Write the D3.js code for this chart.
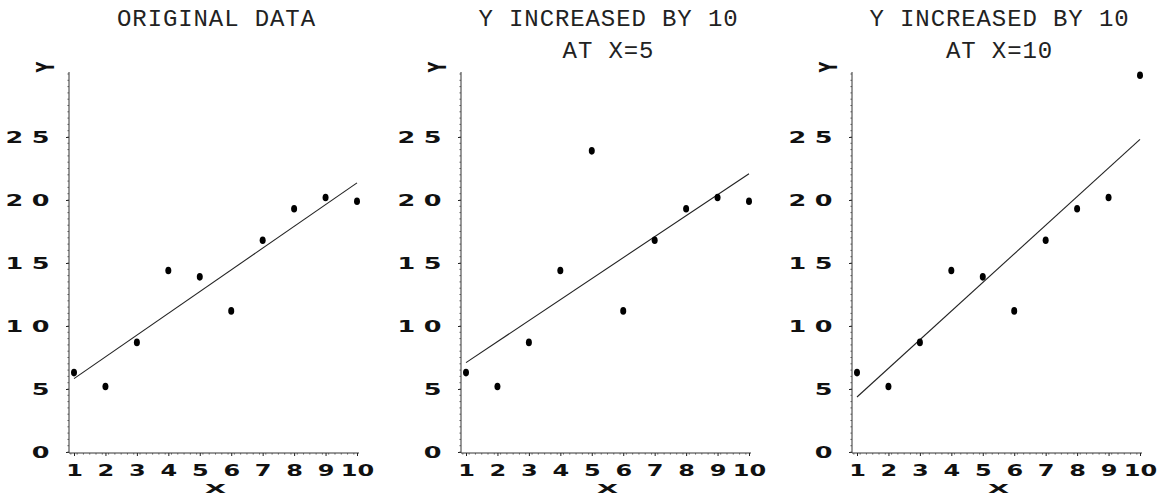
<!DOCTYPE html>
<html>
<head>
<meta charset="utf-8">
<script src="https://cdn.jsdelivr.net/npm/d3@7"></script>
<style>
    body { margin: 0; background: #fff; }
    .title { font-family: "Liberation Mono", "DejaVu Sans Mono", monospace; font-size: 24px; fill: #222; letter-spacing: 0.9px; }
    .tick-label { font-family: "DejaVu Sans", sans-serif; font-weight: bold; font-size: 15px; fill: #111; }
</style>
</head>
<body>
<div class="content-wrapper"></div>
<script>
// data
var xValues = [1, 2, 3, 4, 5, 6, 7, 8, 9, 10];
var yOriginal = [6.3, 5.2, 8.7, 14.4, 13.9, 11.2, 16.8, 19.3, 20.2, 19.9];
var yChangedAt5 = [6.3, 5.2, 8.7, 14.4, 23.9, 11.2, 16.8, 19.3, 20.2, 19.9];
var yChangedAt10 = [6.3, 5.2, 8.7, 14.4, 13.9, 11.2, 16.8, 19.3, 20.2, 29.9];
var panelTitles = [
    ["ORIGINAL DATA"],
    ["Y INCREASED BY 10", "AT X=5"],
    ["Y INCREASED BY 10", "AT X=10"]
];
var xTicks = [1, 2, 3, 4, 5, 6, 7, 8, 9, 10];
var yTicks = [0, 5, 10, 15, 20, 25];

var panelSeries = [yOriginal, yChangedAt5, yChangedAt10];
var panelLefts = [74, 466, 857];

var width = 1162;
var height = 495;
var plotW = 283;

var svg = d3.select(".content-wrapper")
    .append("svg")
    .attr("width", width)
    .attr("height", height);

var y = d3.scaleLinear().domain([0, 30]).range([452, 74]);

// least squares fit
function fit(xs, ys) {
    var mx = d3.mean(xs), my = d3.mean(ys);
    var sxy = d3.sum(xs, (d, i) => (d - mx) * (ys[i] - my));
    var sxx = d3.sum(xs, d => (d - mx) * (d - mx));
    var b = sxy / sxx;
    return { a: my - b * mx, b: b };
}

panelSeries.forEach(function (ys, p) {
    var left = panelLefts[p];
    var x = d3.scaleLinear().domain([1, 10]).range([left, left + plotW]);
    var axisX = left - 5;
    var g = svg.append("g");

    // titles
    var cx = left + plotW / 2 + 1;
    panelTitles[p].forEach(function (t, i) {
        g.append("text")
            .attr("class", "title")
            .attr("x", cx)
            .attr("y", 26 + i * 32)
            .attr("text-anchor", "middle")
            .text(t);
    });

    // y axis
    var yAxis = d3.axisLeft(y)
        .tickValues(yTicks)
        .tickSize(3)
        .tickFormat(d3.format("d"));
    var ya = g.append("g")
        .attr("transform", "translate(" + axisX + ",0)")
        .call(yAxis);
    ya.select(".domain").attr("d", "M0," + (y(30) - 2) + "V" + (y(0) + 1)).attr("stroke", "#333");
    ya.selectAll(".tick line").attr("stroke", "#222");
    ya.selectAll(".tick text")
        .attr("class", "tick-label")
        .attr("font-family", null).attr("font-size", null)
        .attr("fill", null)
        .attr("x", -16 / 1.7 + 5 / 1.7)
        .attr("dy", "0.36em")
        .attr("letter-spacing", 5)
        .attr("transform", "scale(1.7,1)");
    // minor ticks on y
    g.append("g").selectAll("line")
        .data(d3.range(0, 30.01, 0.5))
        .enter().append("line")
        .attr("x1", axisX - 1.5).attr("x2", axisX)
        .attr("y1", d => y(d)).attr("y2", d => y(d))
        .attr("stroke", "#555").attr("stroke-width", 1);

    // x axis
    var xAxis = d3.axisBottom(x)
        .tickValues(xTicks)
        .tickSize(3)
        .tickPadding(6)
        .tickFormat(d3.format("d"));
    var xa = g.append("g")
        .attr("transform", "translate(0," + (y(0) + 1) + ")")
        .call(xAxis);
    xa.select(".domain").attr("d", "M" + axisX + ",0H" + (x(10) + 2)).attr("stroke", "#333");
    xa.selectAll(".tick line").attr("stroke", "#222");
    xa.selectAll(".tick text")
        .attr("class", "tick-label")
        .attr("font-family", null).attr("font-size", null)
        .attr("fill", null)
        .attr("y", 0)
        .attr("dy", null)
        .attr("transform", "translate(0,23) scale(1.6,1)");
    g.append("g").selectAll("line")
        .data(d3.range(0.9, 10.05, 0.2))
        .enter().append("line")
        .attr("x1", d => x(d)).attr("x2", d => x(d))
        .attr("y1", y(0) + 1).attr("y2", y(0) + 2.5)
        .attr("stroke", "#555").attr("stroke-width", 1);

    // axis names
    g.append("text")
        .attr("class", "tick-label")
        .attr("transform", "translate(" + (axisX - 24) + ",67) rotate(-90) scale(0.95,1.7)")
        .attr("text-anchor", "middle")
        .attr("dy", "0.36em")
        .text("Y");
    g.append("text")
        .attr("class", "tick-label")
        .style("font-size", "13px")
        .attr("transform", "translate(" + (left + plotW / 2) + ",493) scale(2.1,1)")
        .attr("text-anchor", "middle")
        .text("X");

    // regression line
    var f = fit(xValues, ys);
    g.append("line")
        .attr("x1", x(1)).attr("y1", y(f.a + f.b * 1))
        .attr("x2", x(10)).attr("y2", y(f.a + f.b * 10))
        .attr("stroke", "#222")
        .attr("stroke-width", 1.1);

    // points
    g.append("g").selectAll("ellipse")
        .data(xValues)
        .enter().append("ellipse")
        .attr("cx", d => x(d))
        .attr("cy", (d, i) => y(ys[i]))
        .attr("rx", 3)
        .attr("ry", 3.8)
        .attr("fill", "#000");
});
</script>
</body>
</html>
